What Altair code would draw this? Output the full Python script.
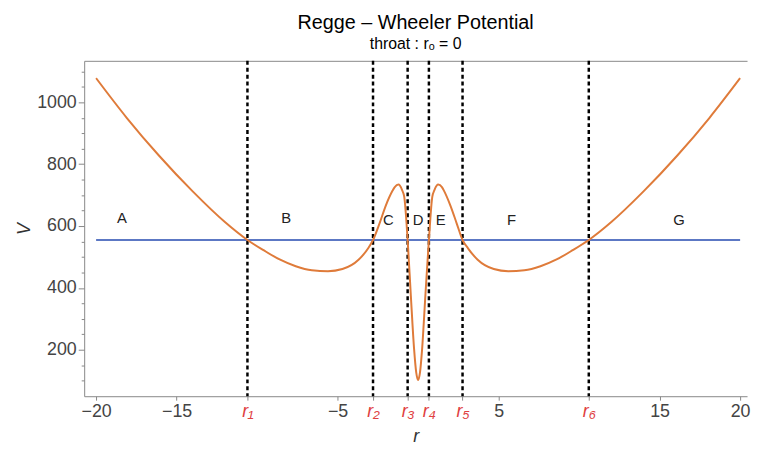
import altair as alt
import pandas as pd

# --- data ---
r_curve = [-20, -18.1, -16.1, -14.0, -12.0, -10.6, -9.6, -8.6, -7.6, -6.6, -5.6, -4.7, -3.7, -3.1,
           -2.8, -2.4, -2.0, -1.6, -1.45, -1.22, -1.0, -0.86, -0.65, -0.45, -0.25, -0.12, 0,
           0.12, 0.25, 0.45, 0.67, 0.88, 1.02, 1.25, 1.48, 1.62, 2.0, 2.4, 2.76, 3.1, 3.7,
           4.7, 5.6, 6.6, 7.6, 8.6, 9.6, 10.6, 12.0, 14.0, 16.1, 18.1, 20]
v_curve = [1078, 950, 828, 712, 613, 555, 522, 492, 470, 457, 454, 461, 491, 528,
           555, 608, 667, 713, 726, 734, 717, 694, 555, 374, 203, 128, 102,
           128, 203, 374, 555, 694, 717, 734, 726, 713, 667, 608, 555, 528, 491,
           461, 454, 457, 470, 492, 522, 555, 613, 712, 828, 950, 1078]

energy_r = [-20, 20]
energy_v = [555, 555]

turn_r = [-10.6, -2.8, -0.65, 0.67, 2.76, 10.6]
turn_names = ["r₁", "r₂", "r₃", "r₄", "r₅", "r₆"]

x_ticks = [-20, -15, -5, 5, 15, 20]

region_names = ["A", "B", "C", "D", "E", "F", "G"]
region_r = [-18.4, -8.2, -1.85, 0.0, 1.4, 5.8, 16.2]
region_v = [625, 625, 620, 620, 620, 620, 620]

y_minor = list(range(100, 1101, 50))

curve_df = pd.DataFrame({"r": r_curve, "V": v_curve})
energy_df = pd.DataFrame({"r": energy_r, "V": energy_v})
turn_df = pd.DataFrame({"r": turn_r, "name": turn_names})
region_df = pd.DataFrame({"r": region_r, "V": region_v, "name": region_names})

FONT = "Liberation Sans"
xscale = alt.Scale(domain=[-20.74, 20.43], nice=False, zero=False)
yscale = alt.Scale(domain=[50, 1134], nice=False, zero=False)

all_x_vals = sorted(x_ticks + turn_r)
label_expr = ""
for rv, nm in zip(turn_r, turn_names):
    label_expr += f"datum.value === {rv} ? '{nm}' : "
label_expr += "datum.label"

x_axis = alt.Axis(
    values=all_x_vals, labelExpr=label_expr, title="r",
    labelOverlap=False, labelFlush=False, grid=False,
    labelFont=FONT, labelFontSize=18,
    labelColor={"condition": {"test": "datum.value % 5 !== 0", "value": "#E0403F"}, "value": "#444444"},
    labelFontStyle={"condition": {"test": "datum.value % 5 !== 0", "value": "italic"}, "value": "normal"},
    tickSize=4, labelPadding=3, tickColor="#888888", domainColor="#888888",
    titleFont=FONT, titleFontSize=18, titleFontStyle="italic", titleFontWeight="normal",
    titleColor="#333333", titlePadding=7,
)

y_axis = alt.Axis(
    values=y_minor, format="d", labelExpr="datum.value % 200 === 0 ? datum.label : ''",
    title="V", grid=False, labelFont=FONT, labelFontSize=18, labelColor="#444444",
    tickSize={"condition": {"test": "datum.value % 200 === 0", "value": 6}, "value": 3},
    labelPadding=2, tickColor="#888888", domainColor="#888888",
    titleFont=FONT, titleFontSize=18, titleFontStyle="italic", titleFontWeight="normal",
    titleColor="#333333", titlePadding=3,
)

curve = alt.Chart(curve_df).mark_line(
    color="#DF7B3A", strokeWidth=2, interpolate="monotone"
).encode(
    x=alt.X("r:Q", scale=xscale, axis=x_axis),
    y=alt.Y("V:Q", scale=yscale, axis=y_axis),
)

energy = alt.Chart(energy_df).mark_line(color="#5C78C4", strokeWidth=2).encode(
    x=alt.X("r:Q", scale=xscale,
            axis=alt.Axis(orient="top", labels=False, ticks=False, domain=True,
                          domainColor="#888888", title=None, grid=False)),
    y=alt.Y("V:Q", scale=yscale, axis=None),
)

turns = alt.Chart(turn_df).mark_rule(
    color="black", strokeDash=[4, 3], strokeWidth=2.5
).encode(
    x=alt.X("r:Q", scale=xscale, axis=None),
)

regions = alt.Chart(region_df).mark_text(
    font=FONT, fontSize=15, color="#222222"
).encode(
    x=alt.X("r:Q", scale=xscale, axis=None),
    y=alt.Y("V:Q", scale=yscale, axis=None),
    text="name:N",
)

chart = alt.layer(turns, energy, curve, regions).resolve_axis(
    x="independent", y="independent"
).properties(
    width=670, height=339,
    autosize=alt.AutoSizeParams(type="none"),
    padding={"left": 77, "top": 51, "right": 4, "bottom": 55},
    title=alt.TitleParams(
        "Regge – Wheeler Potential", subtitle="throat : rₒ = 0",
        font=FONT, fontSize=20, fontWeight="normal", color="black",
        subtitleFont=FONT, subtitleFontSize=16, subtitleColor="black",
        offset=8, subtitlePadding=3, anchor="middle",
    ),
).configure_view(stroke=None)

chart.save("out.html", embed_options={"renderer": "svg", "actions": False})
